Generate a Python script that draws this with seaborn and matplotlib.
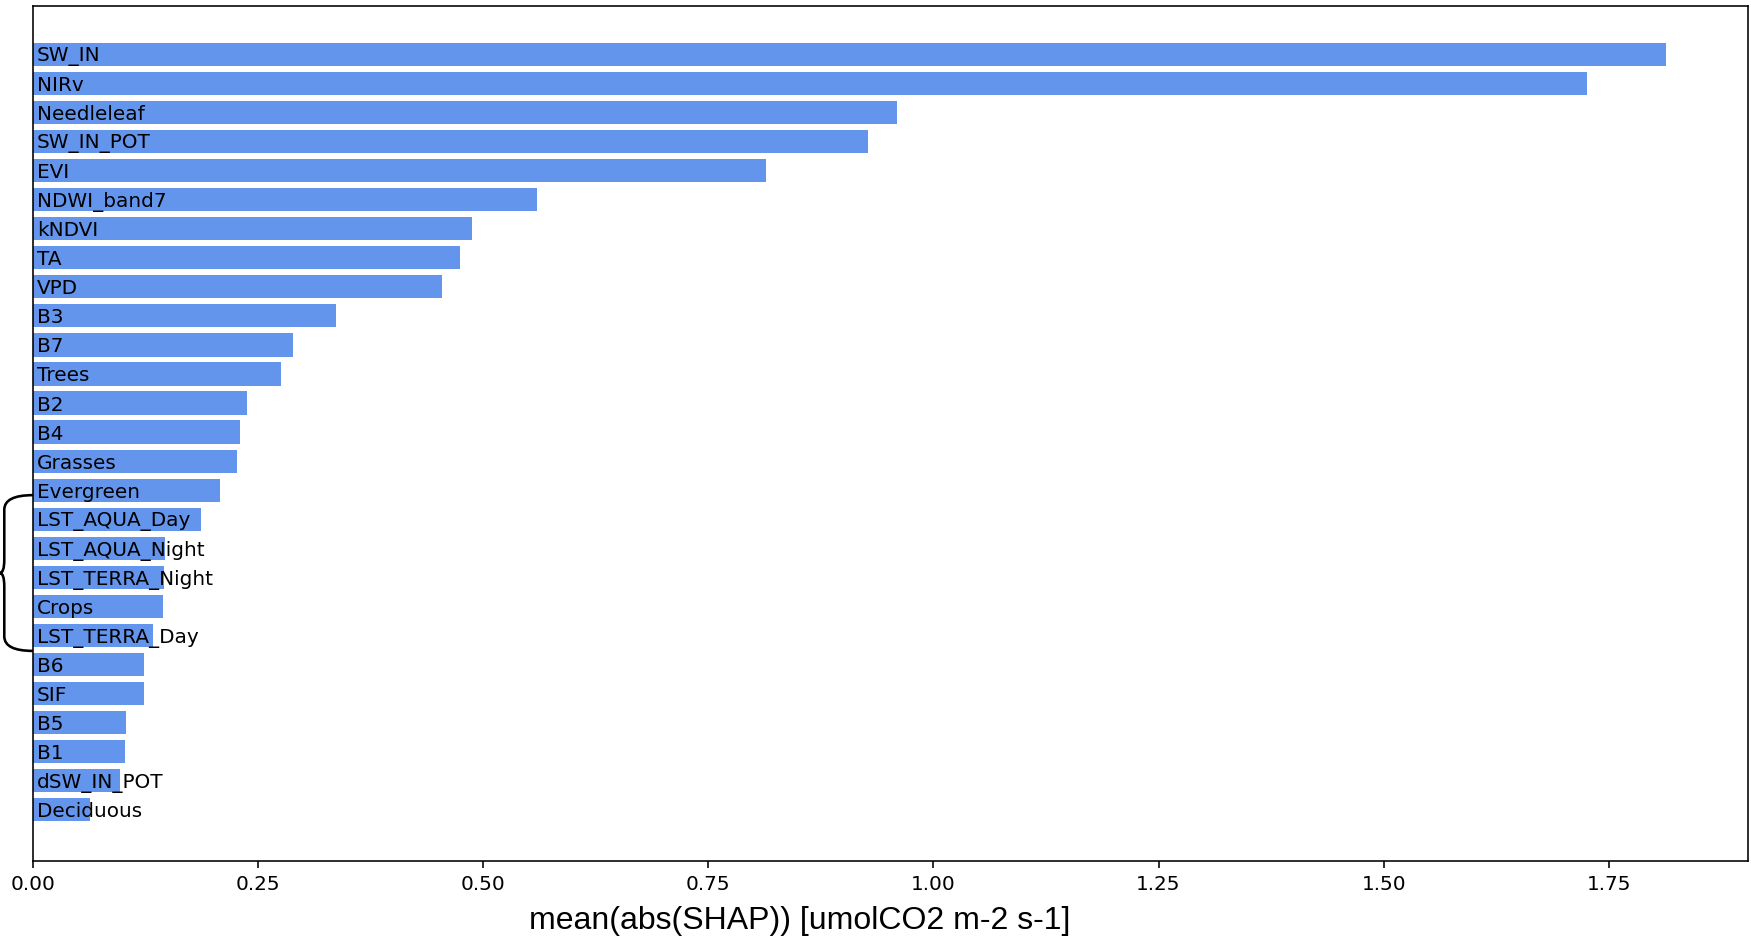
import numpy as np
import pandas as pd
import matplotlib
matplotlib.use("Agg")
import matplotlib.pyplot as plt
from matplotlib.path import Path
from matplotlib.patches import PathPatch
import seaborn as sns

features = ["SW_IN", "NIRv", "Needleleaf", "SW_IN_POT", "EVI", "NDWI_band7",
            "kNDVI", "TA", "VPD", "B3", "B7", "Trees", "B2", "B4", "Grasses",
            "Evergreen", "LST_AQUA_Day", "LST_AQUA_Night", "LST_TERRA_Night",
            "Crops", "LST_TERRA_Day", "B6", "SIF", "B5", "B1", "dSW_IN_POT",
            "Deciduous"]
shap_vals = [1.814, 1.726, 0.959, 0.927, 0.814, 0.560,
             0.488, 0.474, 0.454, 0.336, 0.289, 0.275, 0.238, 0.230, 0.226,
             0.208, 0.187, 0.146, 0.145,
             0.144, 0.133, 0.123, 0.123, 0.103, 0.102, 0.096,
             0.063]

df = pd.DataFrame({"feature": features, "shap": shap_vals})

fig = plt.figure(figsize=(1751 / 144, 944 / 144), dpi=144)
ax = fig.add_axes([0.0189, 0.0879, 0.9794, 0.9057])

sns.barplot(data=df, x="shap", y="feature", orient="h", color="cornflowerblue",
            saturation=1, width=0.8, linewidth=0, ax=ax)

# feature names written inside the bars
for i, name in enumerate(df["feature"]):
    ax.text(0.004, i, name, va="center_baseline", ha="left", fontsize=10)

ax.set_yticks([])
ax.set_ylabel("")
ax.set_xlabel("")
ax.set_xlim(0, max(shap_vals) * 1.05)
ax.set_ylim(len(features) - 1 + 1.76, -1.66)
ax.set_xticks(np.arange(0, 1.76, 0.25))
ax.set_xticklabels([f"{t:.2f}" for t in np.arange(0, 1.76, 0.25)])

fig.text(0.4565, 0.016, "mean(abs(SHAP)) [umolCO2 m-2 s-1]", ha="center",
         va="baseline", fontsize=16, family="Liberation Sans")

# curly brace grouping the LST features
top, mid, bot = 15.17, 17.85, 20.53
xa, xv, xt = 0.0, -0.0168, -0.0195
verts = [(xa, top), (xv, top), (xv, top + 0.5),
         (xv, mid - 0.45),
         (xv, mid), (xt, mid),
         (xv, mid), (xv, mid + 0.45),
         (xv, bot - 0.5),
         (xv, bot), (xa, bot)]
codes = [Path.MOVETO, Path.CURVE3, Path.CURVE3,
         Path.LINETO,
         Path.CURVE3, Path.CURVE3,
         Path.CURVE3, Path.CURVE3,
         Path.LINETO,
         Path.CURVE3, Path.CURVE3]
brace = PathPatch(Path(verts, codes), transform=ax.get_yaxis_transform(),
                  fill=False, lw=1.3, color="black", clip_on=False)
ax.add_patch(brace)

fig.savefig("out.png", dpi=144)
